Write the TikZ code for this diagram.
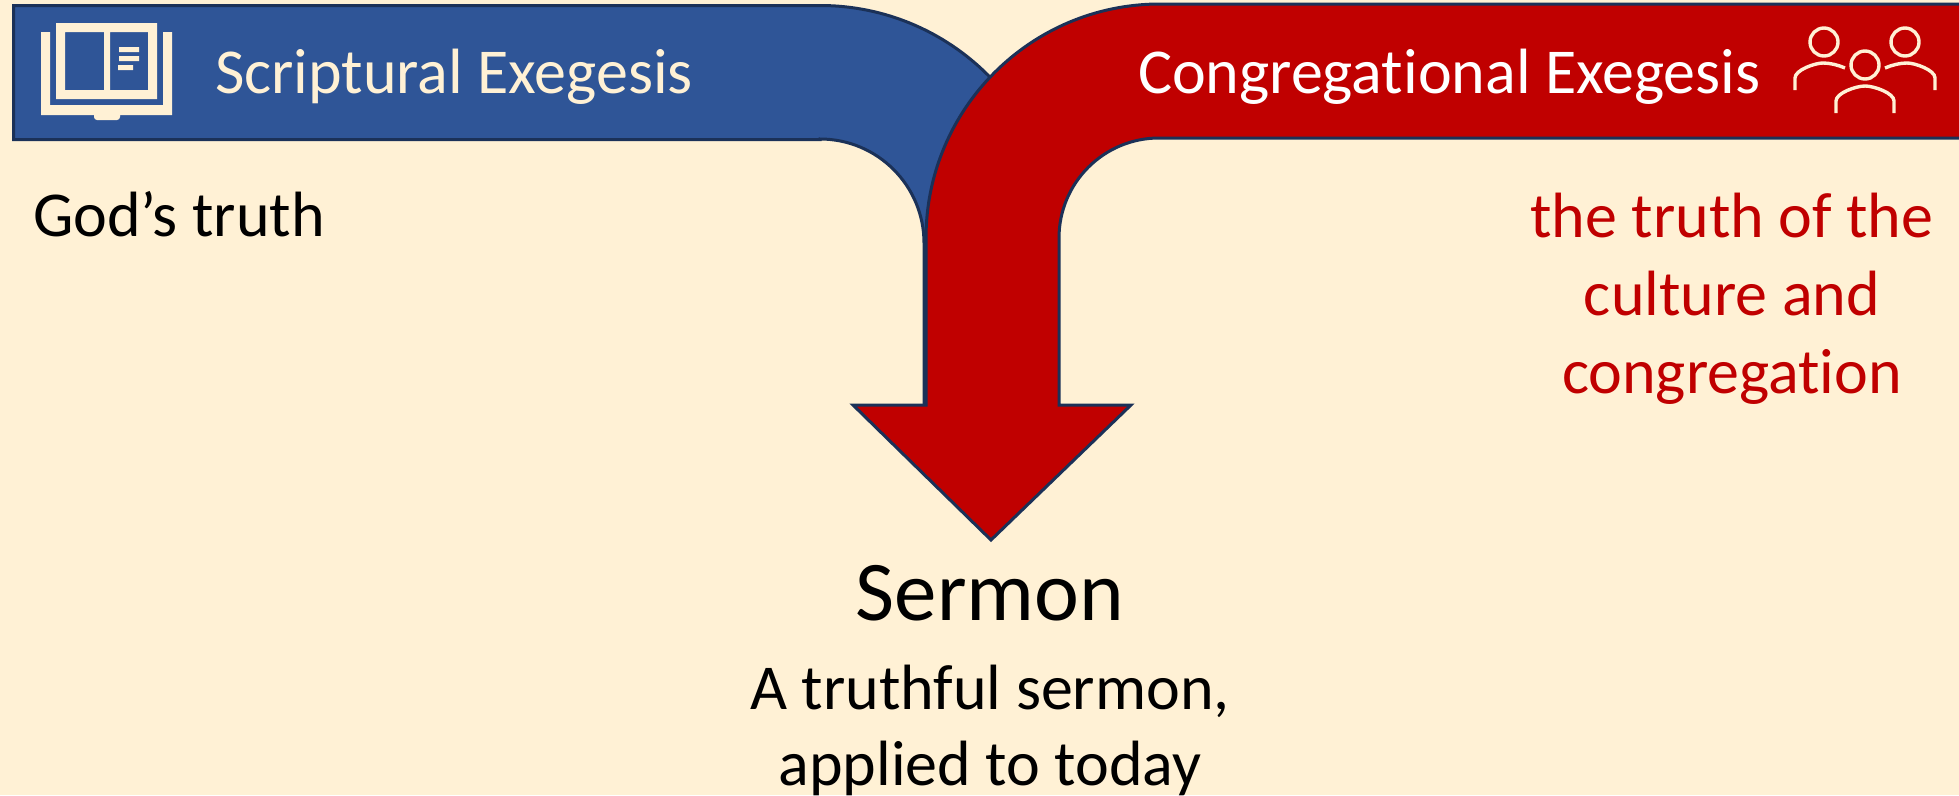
\documentclass[tikz,border=0pt]{standalone}
\usepackage{fontspec}
\setmainfont[Ligatures=NoCommon,Contextuals=NoAlternate]{Carlito}
\definecolor{bgc}{HTML}{FFF1D5}
\definecolor{bluec}{HTML}{2F5597}
\definecolor{redc}{HTML}{C00000}
\definecolor{navy}{HTML}{1B3158}
\tikzset{
  band/.style={draw=navy,line width=3pt,line join=miter},
  lbl/.style={inner sep=0pt,outer sep=0pt,font=\fontsize{64}{76}\selectfont},
  icon/.style={draw=bgc,line width=3.4pt,fill=none},
  iconfill/.style={fill=bgc,draw=none}
}
\begin{document}
\begin{tikzpicture}[x=1pt,y=-1pt]
\useasboundingbox[fill=bgc] (0,0) rectangle (1959,795);
% blue band
\draw[band,fill=bluec] (13.5,5.5) -- (820,5.5) arc[start angle=-90,end angle=0,radius=237.5] -- (1057.5,404) -- (924,404) -- (924,243) arc[start angle=0,end angle=-90,radius=104] -- (820,139.5) -- (13.5,139.5) -- cycle;
% red arrow
\draw[band,fill=redc] (1965,4) -- (1160,4) arc[start angle=-90,end angle=-180,radius=234] -- (926,405) -- (853,405) -- (991,540) -- (1131,405) -- (1059,405) -- (1059,238) arc[start angle=-180,end angle=-90,radius=100] -- (1965,138) -- cycle;
% book icon
\fill[iconfill,even odd rule] (56,23) rectangle (157,99) (65,32) rectangle (104,90) (110,32) rectangle (148,90);
\fill[iconfill] (41,32) -- (50,32) -- (50,105) -- (163,105) -- (163,32) -- (172,32) -- (172,115) -- (120,115) -- (120,117) arc[start angle=0,end angle=90,radius=3] -- (97,120) arc[start angle=90,end angle=180,radius=3] -- (94,115) -- (41,115) -- cycle;
\fill[iconfill] (119,47) rectangle (139,52) (119,56) rectangle (139,61) (118,65) rectangle (133,70);
% people icon
\draw[icon] (1824,42) circle[radius=14] (1905,42) circle[radius=14] (1865,65) circle[radius=14];
\draw[icon] (1795,90) -- (1795,78) .. controls (1795,70) and (1815,63) .. (1823,63) .. controls (1830,63) and (1838,65) .. (1845,68);
\draw[icon] (1935,90) -- (1935,78) .. controls (1935,70) and (1915,63) .. (1907,63) .. controls (1900,63) and (1892,65) .. (1885,68);
\draw[icon] (1836,113) -- (1836,101) .. controls (1836,93) and (1856,86) .. (1865,86) .. controls (1874,86) and (1894,93) .. (1894,101) -- (1894,113);
% text
\node[lbl,anchor=base west,text=bgc] (scrip) at (215,93) {Scriptural Exegesis};
\node[lbl,anchor=base west,text=white] (congr) at (1138,93) {Congregational Exegesis};
\node[lbl,anchor=base west,text=black] (gods) at (33,236) {God’s truth};
\node[lbl,anchor=base,text=redc] (t1) at (1732,237) {the truth of the};
\node[lbl,anchor=base,text=redc] (t2) at (1732,315) {culture and};
\node[lbl,anchor=base,text=redc] (t3) at (1732,393) {congregation};
\node[lbl,anchor=base,text=black,font=\fontsize{85}{100}\selectfont] (serm) at (990,620) {Sermon};
\node[lbl,anchor=base,text=black] (a1) at (990,709) {A truthful sermon,};
\node[lbl,anchor=base,text=black] (a2) at (990,785) {applied to today};
\end{tikzpicture}
\end{document}
